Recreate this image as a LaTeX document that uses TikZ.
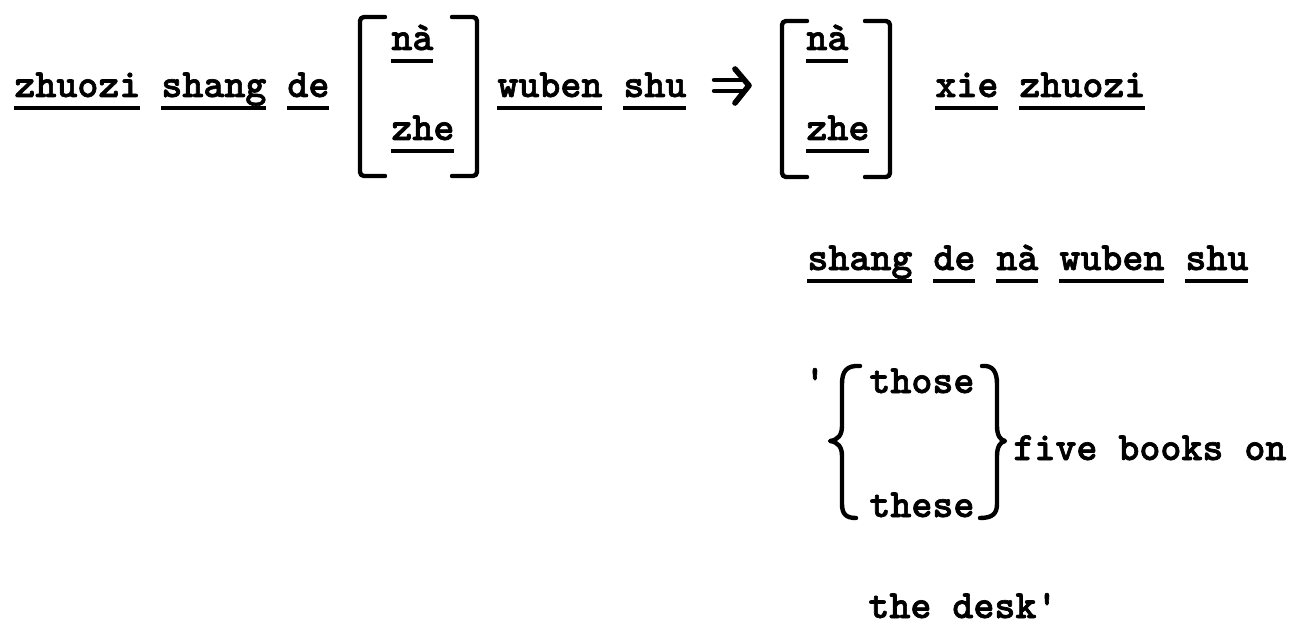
\documentclass[tikz,border=0pt]{standalone}
\usepackage{fontspec}
\newfontfamily\typewriter{lmmonolt10-bold.otf}[FakeBold=1.6]
\newsavebox{\ulbox}
\newcommand{\ulw}[1]{\sbox{\ulbox}{#1}\rlap{\rule[-6.5pt]{\wd\ulbox}{1.8pt}}\usebox{\ulbox}}
\tikzset{
    common/.style={anchor=base west, inner sep=0pt, font=\typewriter\fontsize{20pt}{24pt}\selectfont},
    words/.style={common},
    stroke/.style={line width=2.2pt, line cap=round, line join=round},
    sqbracket/.style={stroke, rounded corners=2pt}
}
\begin{document}
\begin{tikzpicture}[x=0.5pt, y=-0.5pt]
    \useasboundingbox (0,0) rectangle (1296,626);

    % first line: the rule
    \path (14,97) node[words] (lhs) {\ulw{zhuozi} \ulw{shang} \ulw{de}}
        to ++(377,-47) node[words] (naA) {\ulw{nà}}
        to ++(0,90) node[words] (zheA) {\ulw{zhe}}
        to ++(106,-43) node[words] (rhsA) {\ulw{wuben} \ulw{shu}}
        to ++(309,-47) node[words] (naB) {\ulw{nà}}
        to ++(0,90) node[words] (zheB) {\ulw{zhe}}
        to ++(129,-43) node[words] (rhsB) {\ulw{xie} \ulw{zhuozi}};

    \draw[sqbracket] (385,17) -- (360,17) -- (360,176) -- (385,176);
    \draw[sqbracket] (452,17) -- (477,17) -- (477,176) -- (452,176);
    \draw[sqbracket] (807,21) -- (782,21) -- (782,177) -- (807,177);
    \draw[sqbracket] (865,21) -- (890,21) -- (890,177) -- (865,177);

    % the arrow
    \draw[stroke] (714,80) -- (742,80) (714,91) -- (742,91);
    \draw[stroke, line width=2.8pt] (735,69) -- (749,85.5) -- (735,103);

    % second line
    \path (807,270) node[words] (row2) {\ulw{shang} \ulw{de} \ulw{nà} \ulw{wuben} \ulw{shu}};

    % the gloss
    \path (804,393) node[words] (quote) {'}
        to ++(65,0) node[words] (those) {those}
        to ++(0,124) node[words] (these) {these}
        to ++(144,-57) node[words] (gloss) {five books on}
        to ++(-145,158) node[words] (desk) {the desk'};

    \draw[stroke] (860,366) .. controls (846,365) and (842,372) .. (842,384) -- (842,426)
        .. controls (842,435) and (838,440) .. (830,441) .. controls (838,442) and (842,447) .. (842,456)
        -- (842,504) .. controls (842,514) and (846,518) .. (856,518);
    \draw[stroke] (982,366) .. controls (993,365) and (997,372) .. (997,384) -- (997,426)
        .. controls (997,435) and (1000,440) .. (1005,441) .. controls (1000,442) and (997,447) .. (997,456)
        -- (997,504) .. controls (997,514) and (992,518) .. (980,518);
\end{tikzpicture}
\end{document}
